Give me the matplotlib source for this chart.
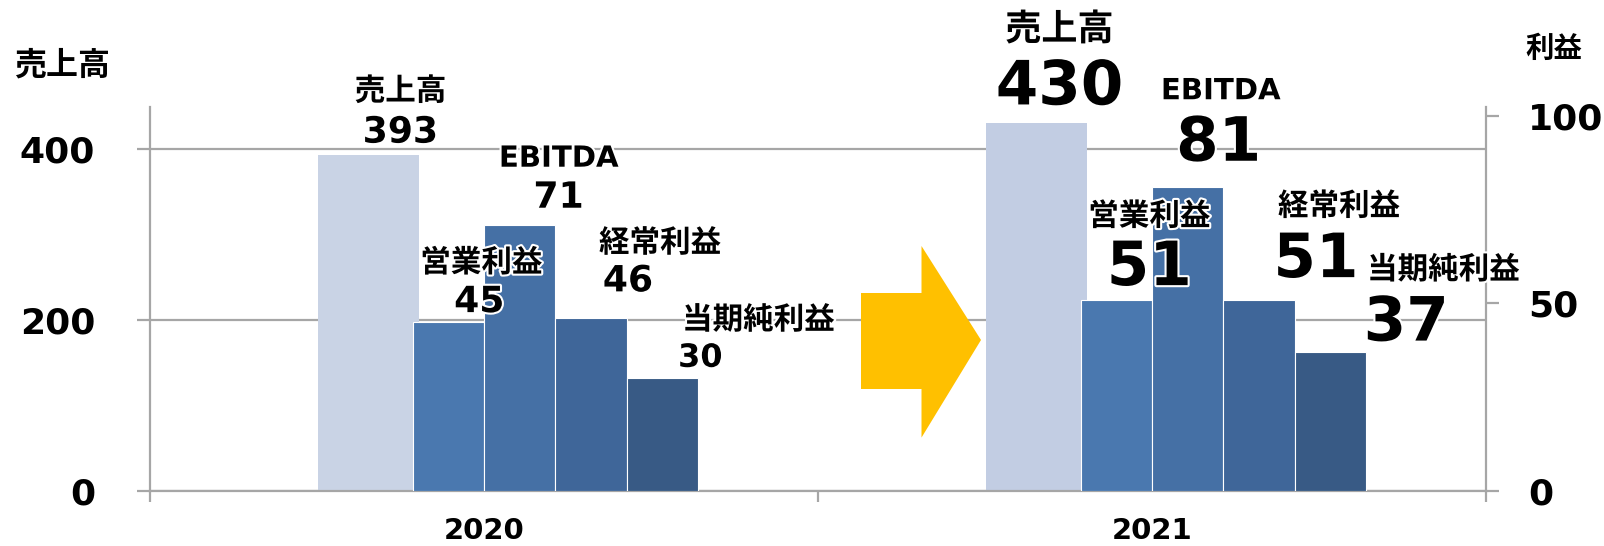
import matplotlib.pyplot as plt
import matplotlib.patheffects as pe
from matplotlib.patches import Polygon

plt.rcParams['font.family'] = ['DejaVu Sans', 'Noto Sans CJK JP']
plt.rcParams['font.weight'] = 'bold'

# データ
years = ['2020', '2021']
sales = [393, 430]
profit_names = ['営業利益', 'EBITDA', '経常利益', '当期純利益']
profits = [
    [45, 51],   # 営業利益
    [71, 81],   # EBITDA
    [46, 51],   # 経常利益
    [30, 37],   # 当期純利益
]

sales_colors = ['#C9D3E5', '#C2CDE3']
profit_colors = ['#4A78AF', '#4570A5', '#3F6699', '#385A85']
grid_col = '#A6A6A6'

fig = plt.figure(figsize=(16.04, 5.46), dpi=100)
ax = fig.add_axes([150 / 1604, 1 - 490.7 / 546, 1336 / 1604, 384 / 546])
ax2 = ax.twinx()

x = list(range(len(years)))

# 売上高（左軸）
sales_w = 0.151
sales_bars = ax.bar([i - 0.173 for i in x], sales, width=sales_w,
                    color=sales_colors, zorder=2)

# 利益（右軸）
pw = 0.1068
profit_bars = []
for k, vals in enumerate(profits):
    b = ax2.bar([i - 0.0535 + k * pw for i in x], vals, width=pw,
                color=profit_colors[k], edgecolor='white', linewidth=0.8, zorder=2)
    profit_bars.append(b)

ax.set_xlim(-0.5, 1.5)
ax.set_ylim(0, 449)
ax2.set_ylim(0, 102.5)

ax.set_yticks([0, 200, 400])
ax2.set_yticks([0, 50, 100])
ax.set_xticks([-0.5, 0.5, 1.5])
ax.set_xticklabels([])
ax.grid(axis='y', color=grid_col, linewidth=1.6, zorder=0)
ax.set_axisbelow(True)

for a in (ax, ax2):
    a.spines['top'].set_visible(False)
    for s in ('left', 'right', 'bottom'):
        a.spines[s].set_color(grid_col)
        a.spines[s].set_linewidth(1.6)
ax.spines['right'].set_visible(False)
ax2.spines['left'].set_visible(False)
ax2.spines['bottom'].set_visible(False)

ax.tick_params(axis='y', length=9.4, width=1.6, color=grid_col, pad=30, labelsize=26)
ax2.tick_params(axis='y', length=9.4, width=1.6, color=grid_col, pad=21, labelsize=26)
ax.tick_params(axis='x', length=8, width=1.6, color=grid_col)

for i, y in enumerate(years):
    ax.annotate(y, xy=(i, 0), xycoords=('data', 'axes fraction'),
                xytext=(0, -40), textcoords='offset pixels',
                ha='center', va='center', fontsize=21, fontweight='bold')

fig.text(62 / 1604, 1 - 66 / 546, '売上高', ha='center', va='center',
         fontsize=23, fontweight='bold')
fig.text(1554 / 1604, 1 - 49 / 546, '利益', ha='center', va='center',
         fontsize=20.5, fontweight='bold')

glow = [pe.withStroke(linewidth=3, foreground='white')]

# ラベル位置のオフセット（ピクセル）: 名前, 数値
sales_off = [((32, 63), (32, 22)), ((23, 93), (23, 35))]
profit_off = [
    [((33, 59), (31, 20)), ((33, 83), (33, 31))],
    [((39, 66), (39, 27)), ((33, 96), (31, 43))],
    [((69, 75), (37, 37)), ((80, 93), (57, 39))],
    [((96, 58), (38, 20)), ((113, 82), (76, 28))],
]
name_size = [22, 26]
num_size = [26, 44]

for i in x:
    bar = sales_bars[i]
    cx = bar.get_x() + bar.get_width() / 2
    (nx, ny), (vx, vy) = sales_off[i]
    ax.annotate('売上高', xy=(cx, sales[i]), xytext=(nx, ny), textcoords='offset pixels',
                ha='center', va='center', fontsize=name_size[i], path_effects=glow)
    ax.annotate(str(sales[i]), xy=(cx, sales[i]), xytext=(vx, vy), textcoords='offset pixels',
                ha='center', va='center', fontsize=num_size[i], path_effects=glow)

for k, name in enumerate(profit_names):
    for i in x:
        bar = profit_bars[k][i]
        cx = bar.get_x() + bar.get_width() / 2
        v = profits[k][i]
        (nx, ny), (vx, vy) = profit_off[k][i]
        ax2.annotate(name, xy=(cx, v), xytext=(nx, ny), textcoords='offset pixels',
                     ha='center', va='center', fontsize=21 if name == 'EBITDA' else 22,
                     path_effects=glow, zorder=5)
        fs = num_size[i]
        if i == 0 and k == 3:
            fs = 23
        ax2.annotate(str(v), xy=(cx, v), xytext=(vx, vy), textcoords='offset pixels',
                     ha='center', va='center', fontsize=fs, path_effects=glow, zorder=5)

# 矢印
pts = [(861, 293), (921.5, 293), (921.5, 246), (981, 340), (921.5, 437.6),
       (921.5, 389), (861, 389)]
arrow = Polygon([(px / 1604, 1 - py / 546) for px, py in pts], closed=True,
                transform=fig.transFigure, facecolor='#FFC000', edgecolor='none')
fig.patches.append(arrow)

fig.savefig('out.png', dpi=100)
